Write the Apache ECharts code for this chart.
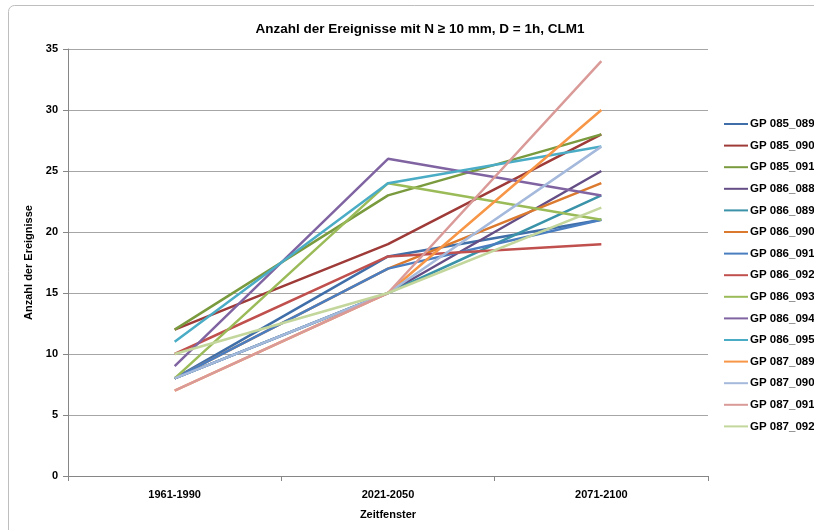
<!DOCTYPE html>
<html>
<head>
<meta charset="utf-8">
<script src="https://cdn.jsdelivr.net/npm/echarts@6/dist/echarts.min.js"></script>
<style>
  html, body { margin: 0; padding: 0; background: #ffffff; }
  #chart { width: 814px; height: 530px; }
</style>
</head>
<body>
<div id="chart"></div>
<script>
// Zeitfenster (categories)
const periods = ['1961-1990', '2021-2050', '2071-2100'];

// Gitterpunkte
const seriesNames = [
  'GP 085_089', 'GP 085_090', 'GP 085_091', 'GP 086_088', 'GP 086_089',
  'GP 086_090', 'GP 086_091', 'GP 086_092', 'GP 086_093', 'GP 086_094',
  'GP 086_095', 'GP 087_089', 'GP 087_090', 'GP 087_091', 'GP 087_092'
];

// Anzahl der Ereignisse je Gitterpunkt und Zeitfenster
const gp085_089 = [8, 18, 21];
const gp085_090 = [12, 19, 28];
const gp085_091 = [12, 23, 28];
const gp086_088 = [8, 15, 25];
const gp086_089 = [8, 15, 23];
const gp086_090 = [8, 17, 24];
const gp086_091 = [8, 17, 21];
const gp086_092 = [10, 18, 19];
const gp086_093 = [8, 24, 21];
const gp086_094 = [9, 26, 23];
const gp086_095 = [11, 24, 27];
const gp087_089 = [7, 15, 30];
const gp087_090 = [8, 15, 27];
const gp087_091 = [7, 15, 34];
const gp087_092 = [10, 15, 22];

const values = [
  gp085_089, gp085_090, gp085_091, gp086_088, gp086_089,
  gp086_090, gp086_091, gp086_092, gp086_093, gp086_094,
  gp086_095, gp087_089, gp087_090, gp087_091, gp087_092
];

const yTicks = [0, 5, 10, 15, 20, 25, 30, 35];

const colors = [
  '#3F6EA8', '#9E3B38', '#7A9A3E', '#654E85', '#3A93A8',
  '#DB7A2E', '#4A7EC0', '#C0504D', '#9BBB59', '#8064A2',
  '#4BACC6', '#F79646', '#A4B9DB', '#D99A98', '#C3D69B'
];

const font = 'Liberation Sans, Arial, sans-serif';

const chart = echarts.init(document.getElementById('chart'), null, { renderer: 'canvas' });

chart.setOption({
  animation: false,
  backgroundColor: '#ffffff',
  color: colors,
  title: {
    text: 'Anzahl der Ereignisse mit N \u2265 10 mm, D = 1h, CLM1',
    left: 415,
    textAlign: 'center',
    top: 17,
    textStyle: { fontFamily: font, fontSize: 13.5, fontWeight: 'bold', color: '#000' }
  },
  graphic: [{
    type: 'rect',
    shape: { x: 8.5, y: 5.5, width: 900, height: 600, r: 6 },
    style: { fill: 'none', stroke: '#BEBEBE', lineWidth: 1 },
    silent: true,
    z: -10
  }],
  legend: {
    orient: 'vertical',
    left: 724,
    top: 118,
    padding: 0,
    itemGap: 9.6,
    itemWidth: 24,
    itemHeight: 14,
    icon: 'path://M0,6 L24,6 L24,8 L0,8 Z',
    data: seriesNames,
    textStyle: { fontFamily: font, fontSize: 11.5, fontWeight: 'bold', color: '#000', padding: [0, 0, 0, -3] }
  },
  grid: { left: 68, right: 106, top: 49, bottom: 54, containLabel: false },
  xAxis: {
    type: 'category',
    data: periods,
    boundaryGap: true,
    name: 'Zeitfenster',
    nameLocation: 'middle',
    nameGap: 33,
    nameTextStyle: { fontFamily: font, fontSize: 11, fontWeight: 'bold', color: '#000' },
    axisLine: { lineStyle: { color: '#868686', width: 1 } },
    axisTick: { show: true, length: 5, lineStyle: { color: '#868686' } },
    axisLabel: { fontFamily: font, fontSize: 11, fontWeight: 'bold', color: '#000', margin: 13 }
  },
  yAxis: {
    type: 'value',
    min: yTicks[0],
    max: yTicks[yTicks.length - 1],
    interval: 5,
    name: 'Anzahl der Ereignisse',
    nameLocation: 'middle',
    nameGap: 31,
    nameTextStyle: { fontFamily: font, fontSize: 11, fontWeight: 'bold', color: '#000' },
    axisLine: { show: true, lineStyle: { color: '#868686', width: 1 } },
    axisTick: { show: true, length: 5, lineStyle: { color: '#868686' } },
    axisLabel: { fontFamily: font, fontSize: 11, fontWeight: 'bold', color: '#000', margin: 10 },
    splitLine: { lineStyle: { color: '#A6A6A6', width: 1 } }
  },
  series: seriesNames.map((name, i) => ({
    name: name,
    type: 'line',
    data: values[i],
    symbol: 'none',
    lineStyle: { width: 2.5, color: colors[i] },
    itemStyle: { color: colors[i] }
  }))
});
</script>
</body>
</html>
